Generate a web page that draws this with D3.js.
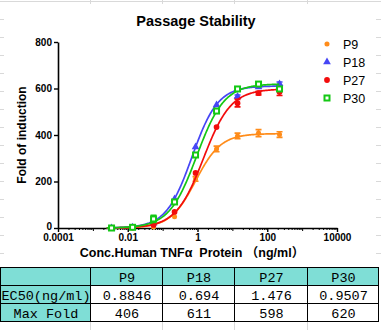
<!DOCTYPE html>
<html>
<head>
<meta charset="utf-8">
<script src="https://cdn.jsdelivr.net/npm/d3@7"></script>
<style>
  body { margin: 0; background: #fff; }
  svg { display: block; }
</style>
</head>
<body>
<div id="sheet"></div>
<script>
// 4-fold dilution series, ng/ml
var concentrations = [0.00343, 0.01373, 0.0549, 0.2197, 0.879, 3.516, 14.06, 56.25, 225];

var passages = ['P9', 'P18', 'P27', 'P30'];

// mean fold of induction per passage
var foldP9  = [0, 1, 4, 48, 211, 340, 396, 408, 402];
var foldP18 = [0, 3, 20, 125, 348, 529, 566, 606, 620];
var foldP27 = [0, 2, 13, 69, 237, 434, 537, 580, 585];
var foldP30 = [0, 3, 39, 112, 314, 503, 598, 619, 598];

// error bar half-heights
var errP9  = [0, 0, 0, 0, 10, 12, 12, 15, 12];
var errP18 = [0, 0, 0, 0, 0, 0, 6, 0, 8];
var errP27 = [0, 0, 0, 0, 0, 0, 16, 8, 15];
var errP30 = [0, 0, 15, 0, 0, 0, 8, 8, 6];

// four parameter fit (bottom = 0)
var ec50 = [0.8846, 0.694, 1.476, 0.9507];
var maxFold = [406, 611, 598, 620];
var hillSlope = [1.2, 1.17, 1.1, 1.1];

var xTicks = [0.0001, 0.01, 1, 100, 10000];
var yTicks = [0, 200, 400, 600, 800];

var tableRowLabels = ['EC50(ng/ml)', 'Max Fold'];

d3.passageChart = {
  params: {
    node: '#sheet',
    width: 381,
    height: 330,
    colors: ['#ff8c1a', '#4646f5', '#f20c0c', '#14c814'],
    symbols: ['circle', 'triangle', 'circle', 'square'],
    plot: { left: 58, right: 337, top: 42, bottom: 228 },
    table: { top: 267, rowHeight: 18, cols: [0, 90, 162, 234, 307, 378] }
  },

  init: function() {
    this.svg = d3.select(this.params.node).append('svg')
      .attr('width', this.params.width)
      .attr('height', this.params.height);

    this.x = d3.scaleLog()
      .domain([0.0001, 10000])
      .range([this.params.plot.left, this.params.plot.right]);

    this.y = d3.scaleLinear()
      .domain([0, 800])
      .range([this.params.plot.bottom, this.params.plot.top]);

    this.series = passages.map(function(name, i) {
      var fold = [foldP9, foldP18, foldP27, foldP30][i];
      var err = [errP9, errP18, errP27, errP30][i];
      return {
        name: name,
        color: this.params.colors[i],
        symbol: this.params.symbols[i],
        ec50: ec50[i],
        top: maxFold[i],
        hill: hillSlope[i],
        points: concentrations.map(function(c, j) {
          return { conc: c, fold: fold[j], err: err[j] };
        })
      };
    }.bind(this));
  },

  draw: function() {
    this.drawSheetGrid();
    this.drawFrame();
    this.drawYAxis();
    this.drawXAxis();
    this.series.forEach(function(s) { this.drawSeries(s); }.bind(this));
    this.drawLegend();
    this.drawTable();
  },

  // faint spreadsheet cell lines around the embedded chart
  drawSheetGrid: function() {
    var g = this.svg.append('g').attr('stroke', '#d9d9d9').attr('stroke-width', 1);
    var cols = this.params.table.cols;

    g.append('line').attr('x1', 0).attr('x2', this.params.width).attr('y1', 1.5).attr('y2', 1.5);
    d3.range(19.5, 262, 18).forEach(function(y) {
      g.append('line').attr('x1', 0).attr('x2', 4).attr('y1', y).attr('y2', y);
      g.append('line').attr('x1', 376).attr('x2', 381).attr('y1', y).attr('y2', y);
    });
    cols.slice(1, 5).forEach(function(cx) {
      g.append('line').attr('x1', cx + 0.5).attr('x2', cx + 0.5).attr('y1', 0).attr('y2', 4);
      g.append('line').attr('x1', cx + 0.5).attr('x2', cx + 0.5).attr('y1', 322).attr('y2', 330);
    });
  },

  drawFrame: function() {
    this.svg.append('rect')
      .attr('x', 4).attr('y', 4)
      .attr('width', 372).attr('height', 262)
      .attr('fill', '#fff');

    this.svg.append('text')
      .attr('x', 196).attr('y', 26)
      .attr('text-anchor', 'middle')
      .style('font', 'bold 14.5px "Liberation Sans", Arial, sans-serif')
      .text('Passage Stability');
  },

  drawYAxis: function() {
    var p = this.params.plot;
    var yAxis = d3.axisLeft(this.y)
      .tickValues(yTicks)
      .tickSize(4)
      .tickSizeOuter(0)
      .tickPadding(2);

    var g = this.svg.append('g')
      .attr('transform', 'translate(' + p.left + ',0)')
      .call(yAxis);
    g.select('.domain').attr('stroke-width', 1.6);
    g.selectAll('.tick line').attr('stroke-width', 1.4);
    g.selectAll('text')
      .attr('fill', '#000')
      .style('font', 'bold 10px "Liberation Sans", Arial, sans-serif');
    // lift the zero label clear of the first x label
    g.selectAll('.tick').filter(function(d) { return d === 0; })
      .select('text').attr('dy', '0.1em');

    this.svg.append('text')
      .attr('transform', 'translate(26,' + ((p.top + p.bottom) / 2) + ') rotate(-90)')
      .attr('text-anchor', 'middle')
      .style('font', 'bold 12px "Liberation Sans", Arial, sans-serif')
      .text('Fold of induction');
  },

  drawXAxis: function() {
    var p = this.params.plot;

    // minor ticks at 2..9 of every decade, plus unlabelled decades
    var minor = [];
    var decades = [];
    d3.range(-4, 4).forEach(function(e) {
      d3.range(2, 10).forEach(function(m) { minor.push(m * Math.pow(10, e)); });
      if (xTicks.indexOf(Math.pow(10, e)) < 0) decades.push(Math.pow(10, e));
    });

    var minorAxis = d3.axisBottom(this.x).tickValues(minor).tickSize(2).tickSizeOuter(0).tickFormat('');
    var decadeAxis = d3.axisBottom(this.x).tickValues(decades).tickSize(3).tickSizeOuter(0).tickFormat('');
    var xAxis = d3.axisBottom(this.x)
      .tickValues(xTicks)
      .tickSize(4)
      .tickSizeOuter(0)
      .tickPadding(2)
      .tickFormat(function(d) { return d >= 1 ? d3.format('d')(d) : d3.format('')(d); });

    [minorAxis, decadeAxis].forEach(function(ax) {
      var gm = this.svg.append('g')
        .attr('transform', 'translate(0,' + p.bottom + ')')
        .call(ax);
      gm.select('.domain').remove();
      gm.selectAll('.tick line').attr('stroke-width', 1);
    }.bind(this));

    var g = this.svg.append('g')
      .attr('transform', 'translate(0,' + p.bottom + ')')
      .call(xAxis);
    g.select('.domain').attr('stroke-width', 1.6);
    g.selectAll('.tick line').attr('stroke-width', 1.4);
    g.selectAll('text')
      .attr('fill', '#000')
      .style('font', 'bold 10px "Liberation Sans", Arial, sans-serif');

    this.svg.append('text')
      .attr('x', 192).attr('y', 257)
      .attr('text-anchor', 'middle')
      .style('white-space', 'pre')
      .style('font', 'bold 12.5px "Liberation Sans", Arial, "Noto Sans CJK SC", sans-serif')
      .text('Conc.Human TNFα  Protein （ng/ml）');
  },

  fit: function(s, c) {
    return s.top / (1 + Math.pow(s.ec50 / c, s.hill));
  },

  marker: function(sel, s) {
    if (s.symbol === 'square') {
      sel.append('rect')
        .attr('x', -2.5).attr('y', -2.5)
        .attr('width', 5).attr('height', 5)
        .attr('fill', '#fff')
        .attr('stroke', s.color)
        .attr('stroke-width', 2);
    } else {
      var type = s.symbol === 'triangle' ? d3.symbolTriangle : d3.symbolCircle;
      var size = s.symbol === 'triangle' ? 26 : (s.name === 'P9' ? 20 : 26);
      sel.append('path')
        .attr('d', d3.symbol().type(type).size(size)())
        .attr('fill', s.color);
    }
  },

  drawSeries: function(s) {
    var x = this.x, y = this.y;
    var g = this.svg.append('g');

    var samples = d3.range(Math.log10(0.0025), Math.log10(226), 0.02).map(function(l) {
      return Math.pow(10, l);
    });
    var line = d3.line()
      .x(function(c) { return x(c); })
      .y(function(c) { return y(this.fit(s, c)); }.bind(this));

    g.append('path')
      .datum(samples)
      .attr('d', line)
      .attr('fill', 'none')
      .attr('stroke', s.color)
      .attr('stroke-width', 1.7);

    g.selectAll('.err')
      .data(s.points.filter(function(d) { return d.err > 0; }))
      .enter().append('path')
      .attr('fill', 'none')
      .attr('stroke', s.color)
      .attr('stroke-width', 1.7)
      .attr('d', function(d) {
        var cx = x(d.conc), y0 = y(d.fold - d.err), y1 = y(d.fold + d.err);
        return 'M' + (cx - 3) + ',' + y1 + 'H' + (cx + 3) +
               'M' + cx + ',' + y1 + 'V' + y0 +
               'M' + (cx - 3) + ',' + y0 + 'H' + (cx + 3);
      });

    var marks = g.selectAll('.pt')
      .data(s.points)
      .enter().append('g')
      .attr('transform', function(d) {
        return 'translate(' + x(d.conc) + ',' + y(d.fold) + ')';
      });
    this.marker(marks, s);
  },

  drawLegend: function() {
    var g = this.svg.append('g');
    this.series.forEach(function(s, i) {
      var row = g.append('g').attr('transform', 'translate(327,' + (44 + i * 18) + ')');
      this.marker(row, s);
      row.append('text')
        .attr('x', 16).attr('y', 4.5)
        .style('font', '12.5px "Liberation Sans", Arial, sans-serif')
        .text(s.name);
    }.bind(this));
  },

  drawTable: function() {
    var t = this.params.table;
    var cols = t.cols;
    var teal = '#7fded6';
    var rows = [
      [''].concat(passages),
      [tableRowLabels[0]].concat(ec50.map(String)),
      [tableRowLabels[1]].concat(maxFold.map(String))
    ];
    var g = this.svg.append('g');

    rows.forEach(function(row, r) {
      var top = t.top + r * t.rowHeight;
      row.forEach(function(cell, c) {
        var fill = (r === 0 || c === 0) ? teal : '#fff';
        g.append('rect')
          .attr('x', cols[c] + 0.5).attr('y', top + 0.5)
          .attr('width', cols[c + 1] - cols[c]).attr('height', t.rowHeight)
          .attr('fill', fill)
          .attr('stroke', '#000')
          .attr('stroke-width', 1);
        g.append('text')
          .attr('x', (cols[c] + cols[c + 1]) / 2 + 1)
          .attr('y', top + 14.5)
          .attr('text-anchor', 'middle')
          .style('font', '13.5px "Liberation Mono", "DejaVu Sans Mono", monospace')
          .text(cell);
      });
    });
  }
};

d3.passageChart.init();
d3.passageChart.draw();
</script>
</body>
</html>
